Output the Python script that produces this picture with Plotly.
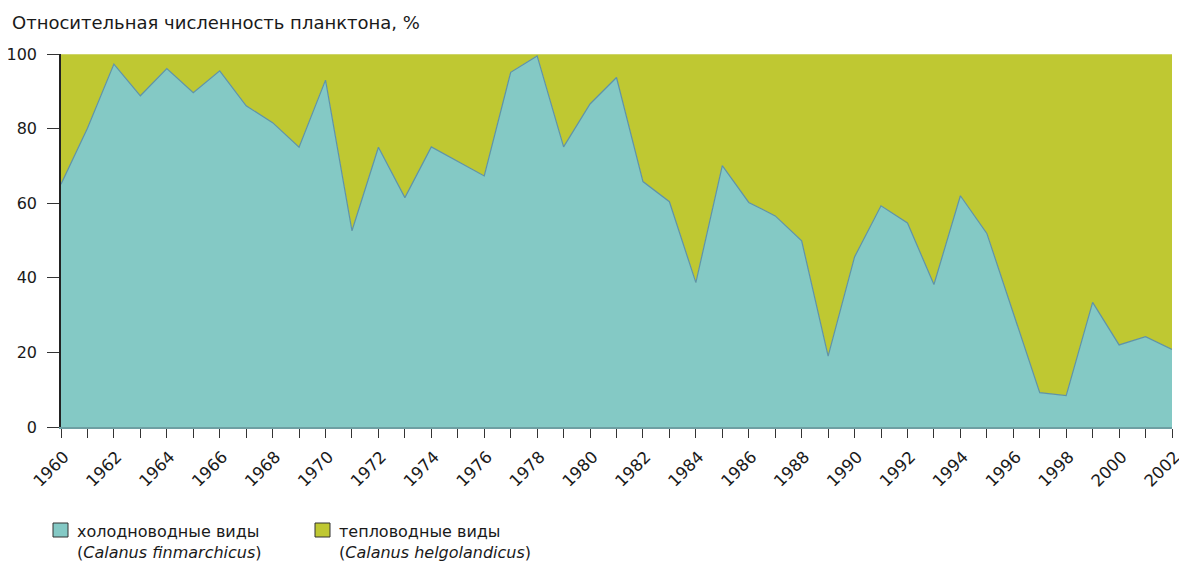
import plotly.graph_objects as go

years = list(range(1960, 2003))
cold = [65.1, 80.1, 97.3, 88.8, 96.1, 89.6, 95.5, 86.1, 81.6, 75.0,
        93.0, 52.6, 75.0, 61.5, 75.1, 71.2, 67.3, 95.1, 99.5, 75.1,
        86.6, 93.7, 65.8, 60.4, 38.7, 70.1, 60.2, 56.6, 49.9, 19.0,
        45.6, 59.3, 54.7, 38.2, 62.0, 51.9, 30.6, 9.2, 8.4, 33.4,
        22.0, 24.2, 20.8]
warm = [34.9, 19.9, 2.7, 11.2, 3.9, 10.4, 4.5, 13.9, 18.4, 25.0,
        7.0, 47.4, 25.0, 38.5, 24.9, 28.8, 32.7, 4.9, 0.5, 24.9,
        13.4, 6.3, 34.2, 39.6, 61.3, 29.9, 39.8, 43.4, 50.1, 81.0,
        54.4, 40.7, 45.3, 61.8, 38.0, 48.1, 69.4, 90.8, 91.6, 66.6,
        78.0, 75.8, 79.2]
tick_labels = [str(y) if y % 2 == 0 else "" for y in years]
y_ticks = [0, 20, 40, 60, 80, 100]

title_text = "Относительная численность планктона, %"
legend_cold = ["холодноводные виды", "(<i>Calanus finmarchicus</i>)"]
legend_warm = ["тепловодные виды", "(<i>Calanus helgolandicus</i>)"]

TEAL = "#84C9C5"
TEAL_LINE = "#5E93A9"
GREEN = "#BFC832"
FONT = "DejaVu Sans"
TXT = "#1a1a1a"

# page body adds an 8px offset; figure is laid out accordingly
W, H = 1179, 555
L, R, T, B = 53, 15, 46, 136
PW, PH = W - L - R, H - T - B


def px(x):
    return (x - L) / PW


def py(y):
    return (H - B - y) / PH


fig = go.Figure()
fig.add_trace(go.Scatter(
    x=years, y=cold, stackgroup="s", mode="lines",
    line=dict(color=TEAL_LINE, width=1.2), fillcolor=TEAL,
    showlegend=False, hoverinfo="x+y"))
fig.add_trace(go.Scatter(
    x=years, y=warm, stackgroup="s", mode="lines",
    line=dict(color="#DDE2A0", width=1), fillcolor=GREEN,
    showlegend=False, hoverinfo="x+y"))

fig.update_layout(
    width=W, height=H,
    margin=dict(l=L, r=R, t=T, b=B, autoexpand=False),
    paper_bgcolor="white", plot_bgcolor="white",
    font=dict(family=FONT, size=15, color=TXT),
    showlegend=False,
    xaxis=dict(
        range=[1960, 2002], tickvals=years, ticktext=tick_labels,
        tickangle=-45, ticks="outside", ticklen=9, tickcolor="#333",
        ticklabelshift=3, ticklabelstandoff=3,
        showline=True, linecolor="#6E9FA3", linewidth=1.5,
        showgrid=False, zeroline=False, automargin=False,
        tickfont=dict(family=FONT, size=16.5, color=TXT)),
    yaxis=dict(
        range=[0, 100], tickvals=y_ticks, ticks="outside", ticklen=12,
        ticklabelstandoff=7,
        tickcolor="#333", showline=True, linecolor="#222", linewidth=1.5,
        showgrid=False, zeroline=False, automargin=False,
        tickfont=dict(family=FONT, size=16, color=TXT)),
)

fig.add_annotation(xref="paper", yref="paper", x=px(2), y=py(15),
                   xanchor="left", yanchor="middle", showarrow=False,
                   text=title_text, font=dict(family=FONT, size=18, color=TXT))


def legend_item(x0, color, lines):
    fig.add_shape(type="rect", xref="paper", yref="paper",
                  x0=px(x0), x1=px(x0 + 15),
                  y0=py(529), y1=py(515),
                  fillcolor=color, line=dict(color="#333", width=1))
    fig.add_annotation(xref="paper", yref="paper",
                       x=px(x0 + 22), y=py(534),
                       xanchor="left", yanchor="middle", align="left",
                       showarrow=False, text="<br>".join(lines),
                       font=dict(family=FONT, size=16, color=TXT))


legend_item(45, TEAL, legend_cold)
legend_item(307, GREEN, legend_warm)

fig.write_html("out.html")
